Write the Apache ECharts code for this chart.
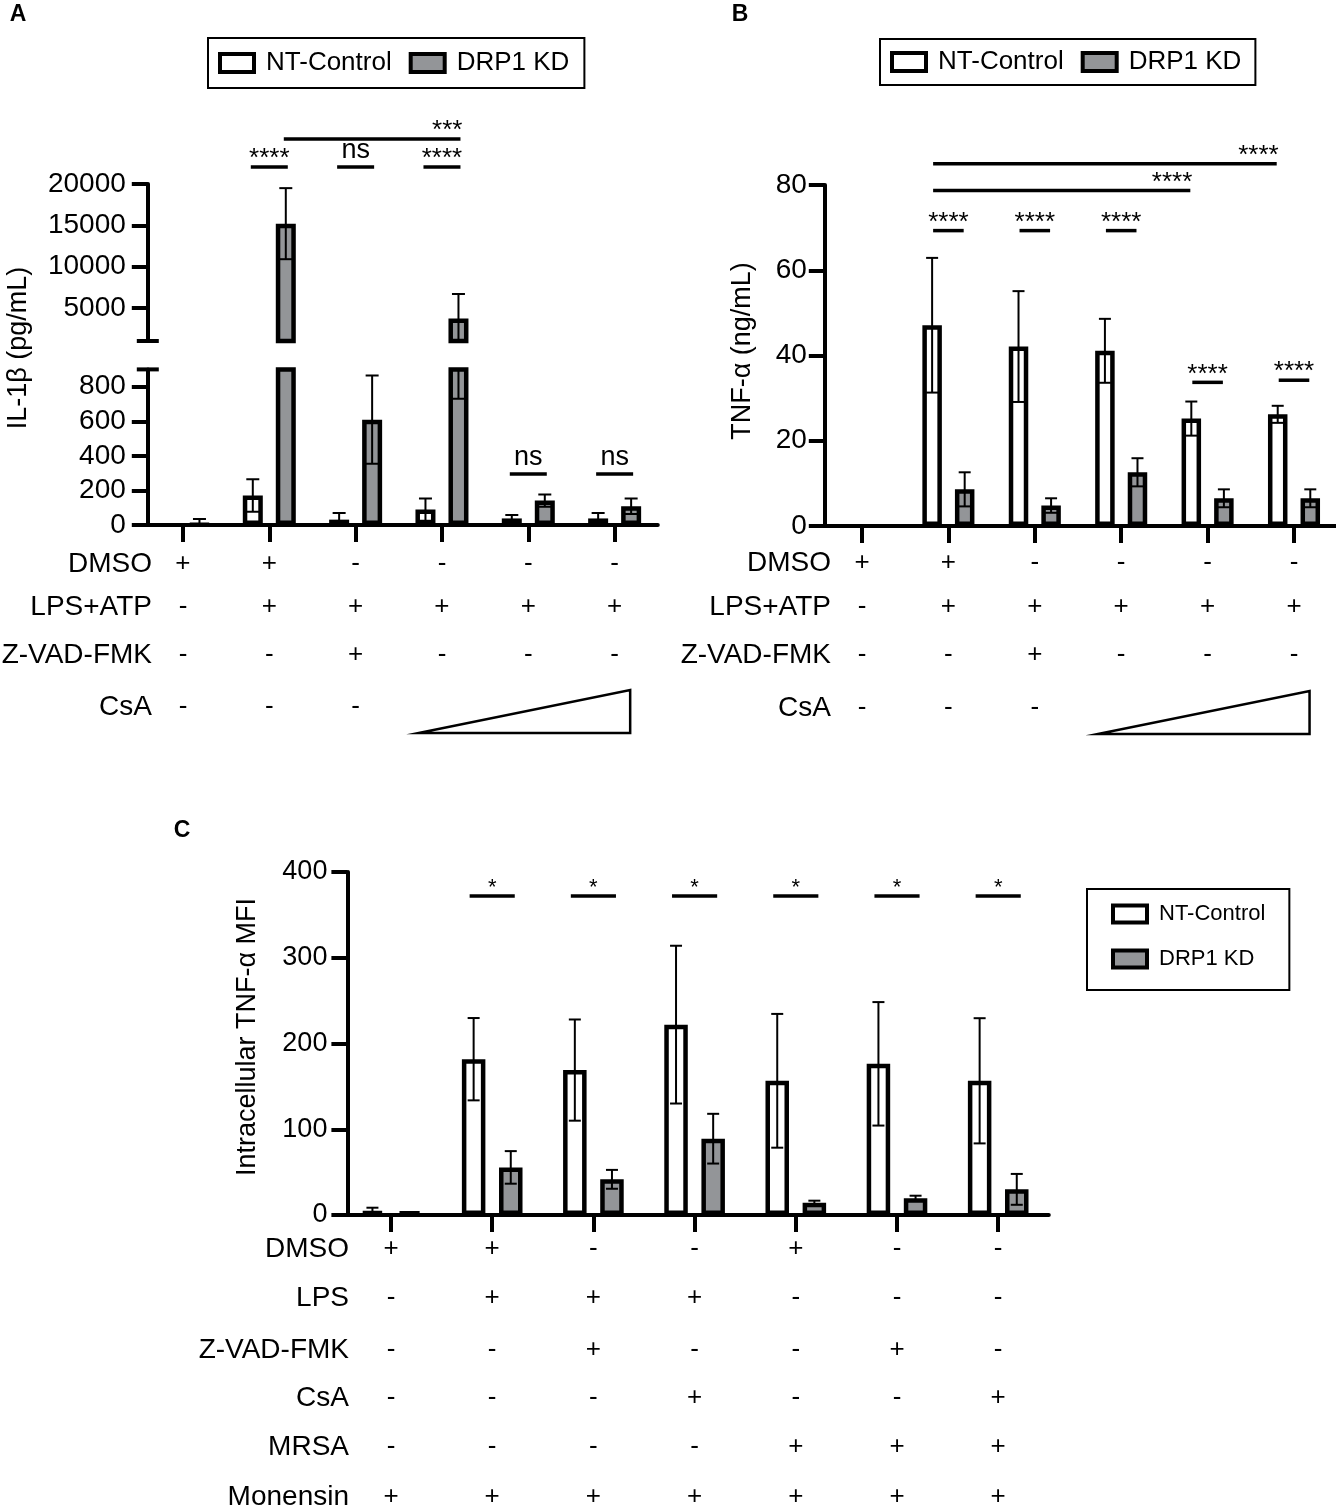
<!doctype html>
<html lang="en">
<head>
    <meta charset="UTF-8">
    <title>IL-1β / TNF-α – NT-Control vs DRP1 KD</title>
    <script src="https://cdn.jsdelivr.net/npm/echarts@6.0.0/dist/echarts.min.js"></script>
    <style>
        html, body { margin: 0; padding: 0; background: #fff; }
        #chart { width: 1336px; height: 1508px; }
    </style>
</head>
<body>
<div id="chart"></div>

<script type="text/javascript">
/* 1. data */
/* panel A : IL-1b (pg/mL), broken axis */
let groupsA = ['1', '2', '3', '4', '5', '6'];
let ntA     = [0, 170, 31, 89, 38, 38];
let ntErrA  = [0, 94, 38, 65, 20, 31];
let kdA     = [3, 15200, 609, 3710, 141, 108];
let kdErrA  = [32, 4300, 255, 2980, 36, 45];

/* panel B : TNF-a (ng/mL) */
let groupsB = ['1', '2', '3', '4', '5', '6'];
let ntB     = [0, 47.1, 42.1, 41.1, 25.2, 26.2];
let ntErrB  = [0, 15.8, 13.0, 7.5, 4.0, 2.0];
let kdB     = [0, 8.6, 4.8, 12.6, 6.5, 6.5];
let kdErrB  = [0, 4.0, 1.7, 3.3, 2.1, 2.1];

/* panel C : intracellular TNF-a MFI */
let groupsC = ['1', '2', '3', '4', '5', '6', '7'];
let ntC     = [4.7, 181.7, 169, 222, 156.5, 176.3, 156.5];
let ntErrC  = [3.8, 48, 59, 92, 78, 72, 73];
let kdC     = [3.9, 55.5, 41.6, 89, 14.4, 19.4, 29.9];
let kdErrC  = [0, 19, 11, 29, 2.3, 3.1, 18];

/* tick labels */
let ticksAUpper = [5000, 10000, 15000, 20000];
let ticksALower = [0, 200, 400, 600, 800];
let ticksB = [0, 20, 40, 60, 80];
let ticksC = [0, 100, 200, 300, 400];

/* treatment rows under the x axis */
let rowNamesA = ['DMSO', 'LPS+ATP', 'Z-VAD-FMK', 'CsA'];
let rowsA = [
    ['+', '+', '-', '-', '-', '-'],
    ['-', '+', '+', '+', '+', '+'],
    ['-', '-', '+', '-', '-', '-'],
    ['-', '-', '-', '', '', '']
];
let rowNamesB = ['DMSO', 'LPS+ATP', 'Z-VAD-FMK', 'CsA'];
let rowsB = [
    ['+', '+', '-', '-', '-', '-'],
    ['-', '+', '+', '+', '+', '+'],
    ['-', '-', '+', '-', '-', '-'],
    ['-', '-', '-', '', '', '']
];
let rowNamesC = ['DMSO', 'LPS', 'Z-VAD-FMK', 'CsA', 'MRSA', 'Monensin'];
let rowsC = [
    ['+', '+', '-', '-', '+', '-', '-'],
    ['-', '+', '+', '+', '-', '-', '-'],
    ['-', '-', '+', '-', '-', '+', '-'],
    ['-', '-', '-', '+', '-', '-', '+'],
    ['-', '-', '-', '-', '+', '+', '+'],
    ['+', '+', '+', '+', '+', '+', '+']
];

/* significance: [fromGroup, fromSide, toGroup, toSide, y value, label]  side -1 = NT, 1 = KD */
let sigAUpper = [
    [1, -1, 1, 1, 22056, '****'],
    [2, -1, 2, 1, 22056, 'ns'],
    [3, -1, 3, 1, 22056, '****'],
    [1, 1, 3, 1, 25443, '***']
];
let sigALower = [
    [4, -1, 4, 1, 295, 'ns'],
    [5, -1, 5, 1, 295, 'ns']
];
let sigB = [
    [1, -1, 1, 1, 69.3, '****'],
    [2, -1, 2, 1, 69.3, '****'],
    [3, -1, 3, 1, 69.3, '****'],
    [4, -1, 4, 1, 33.7, '****'],
    [5, -1, 5, 1, 34.2, '****'],
    [1, -1, 4, -1, 78.7, '****'],
    [1, -1, 5, -1, 85.0, '****']
];
let sigC = [
    [1, -1, 1, 1, 372, '*'],
    [2, -1, 2, 1, 372, '*'],
    [3, -1, 3, 1, 372, '*'],
    [4, -1, 4, 1, 372, '*'],
    [5, -1, 5, 1, 372, '*'],
    [6, -1, 6, 1, 372, '*']
];

/* 2. style constants */
const FONT = "'Liberation Sans', Arial, Helvetica, sans-serif";
const GRAY = '#939598';
const NT_NAME = 'NT-Control';
const KD_NAME = 'DRP1 KD';

/* bar layout per panel: width (border drawn inside), gap ratio, cap width, row offsets below axis */
let pA = { barW: 20, gap: 0.65, cap: 13, rows: [39, 82, 130, 182] };
let pB = { barW: 19.5, gap: 0.67, cap: 12, rows: [37, 81, 129, 182] };
let pC = { barW: 23.5, gap: 0.58, cap: 12, rows: [34, 83, 135, 183, 232, 282] };
[pA, pB, pC].forEach(function (p) { p.off = p.barW * (1 + p.gap) / 2; });

/* 3. helpers */
function barSeries(name, xi, yi, values, fill, p) {
    return {
        type: 'bar', name: name, xAxisIndex: xi, yAxisIndex: yi,
        // a zero mean draws no bar at all (no border stub on the axis)
        data: values.map(function (v) { return v === 0 ? '-' : v; }),
        barWidth: p.barW, barGap: Math.round(p.gap * 100) + '%',
        itemStyle: { color: fill, borderColor: '#000', borderWidth: 4.5 },
        emphasis: { disabled: true }, clip: true, z: 2
    };
}

function errorSeries(name, xi, yi, means, errs, side, p) {
    return {
        type: 'custom', name: name, xAxisIndex: xi, yAxisIndex: yi, clip: true, z: 5,
        silent: true,
        encode: { x: 0, y: 1 },
        data: means.map(function (m, i) { return [i, m, errs[i]]; }),
        renderItem: function (params, api) {
            let e = api.value(2);
            if (!e) return;
            let m = api.value(1);
            let top = api.coord([api.value(0), m + e]);
            let bot = api.coord([api.value(0), m - e]);
            let x = top[0] + side * p.off;
            let st = { stroke: '#000', lineWidth: 2 };
            return {
                type: 'group', children: [
                    { type: 'line', shape: { x1: x, y1: top[1], x2: x, y2: bot[1] }, style: st },
                    { type: 'line', shape: { x1: x - p.cap / 2, y1: top[1], x2: x + p.cap / 2, y2: top[1] }, style: st },
                    { type: 'line', shape: { x1: x - p.cap / 2, y1: bot[1], x2: x + p.cap / 2, y2: bot[1] }, style: st }
                ]
            };
        }
    };
}

function mainXAxis(gridIndex, groups, show) {
    return {
        gridIndex: gridIndex, type: 'category', data: groups, show: show,
        axisLine: { show: true, lineStyle: { color: '#000', width: 4 } },
        axisTick: { show: true, alignWithLabel: true, interval: 0, length: 17, lineStyle: { color: '#000', width: 4 } },
        axisLabel: { show: false }, splitLine: { show: false }
    };
}

function rowXAxis(gridIndex, groups, signs, offset) {
    return {
        gridIndex: gridIndex, type: 'category', data: groups, position: 'bottom', offset: offset,
        axisLine: { show: false }, axisTick: { show: false }, splitLine: { show: false },
        axisLabel: {
            show: true, interval: 0, margin: 0, verticalAlign: 'middle',
            fontSize: 26, fontFamily: FONT, color: '#000',
            formatter: function (v, i) { return signs[i]; }
        }
    };
}

function valueYAxis(gridIndex, min, max, ticks, offset, margin, fontSize) {
    return {
        gridIndex: gridIndex, type: 'value', min: min, max: max, offset: offset,
        axisLine: { show: true, lineStyle: { color: '#000', width: 4 } },
        axisTick: { show: true, length: 16, lineStyle: { color: '#000', width: 4 }, customValues: ticks },
        axisLabel: {
            show: true, customValues: ticks, margin: margin, fontSize: fontSize, fontFamily: FONT, color: '#000',
            formatter: function (v) { return String(v); }
        },
        splitLine: { show: false }
    };
}

function legendBox(left, top, orient, fontSize, pad, gap) {
    return {
        data: [NT_NAME, KD_NAME], left: left, top: top, orient: orient,
        icon: 'rect', itemWidth: 34, itemHeight: orient === 'vertical' ? 17 : 18,
        itemGap: gap, padding: pad, borderColor: '#000', borderWidth: 2,
        selectedMode: false, backgroundColor: '#fff',
        itemStyle: { borderColor: '#000', borderWidth: 4 },
        textStyle: { fontSize: fontSize, fontFamily: FONT, color: '#000', padding: [0, 0, 0, 7] }
    };
}

/* 4. axes */
let xAxes = [];
let gridA1 = 0, gridA2 = 1, gridB = 2, gridC = 3;

xAxes.push(mainXAxis(gridA1, groupsA, false));             // 0
xAxes.push(mainXAxis(gridA2, groupsA, true));              // 1
rowsA.forEach(function (r, i) { xAxes.push(rowXAxis(gridA2, groupsA, r, pA.rows[i])); });
let xB = xAxes.length;
xAxes.push(mainXAxis(gridB, groupsB, true));
rowsB.forEach(function (r, i) { xAxes.push(rowXAxis(gridB, groupsB, r, pB.rows[i])); });
let xC = xAxes.length;
xAxes.push(mainXAxis(gridC, groupsC, true));
rowsC.forEach(function (r, i) { xAxes.push(rowXAxis(gridC, groupsC, r, pC.rows[i])); });

let yAxes = [
    valueYAxis(gridA1, 1000, 20000, ticksAUpper, -8, 22, 28),
    valueYAxis(gridA2, 0, 900, ticksALower, -8, 22, 28),
    valueYAxis(gridB, 0, 80, ticksB, -6, 18, 28),
    valueYAxis(gridC, 0, 400, ticksC, -7, 20, 27)
];

/* 5. option */
let chart = echarts.init(document.getElementById('chart'), null, { renderer: 'canvas' });

let option = {
    animation: false,
    backgroundColor: '#fff',
    textStyle: { fontFamily: FONT },
    grid: [
        { left: 139.8, top: 184, width: 518, height: 157, containLabel: false, outerBoundsMode: 'none' },
        { left: 139.8, top: 369.4, width: 518, height: 155.6, containLabel: false, outerBoundsMode: 'none' },
        { left: 818.8, top: 185, width: 518.4, height: 341, containLabel: false, outerBoundsMode: 'none' },
        { left: 340.4, top: 872, width: 708.4, height: 343, containLabel: false, outerBoundsMode: 'none' }
    ],
    legend: [
        legendBox(208, 38, 'horizontal', 26, [12, 15, 12, 10], 17),
        legendBox(880, 39, 'horizontal', 26, [10, 14, 10, 10], 17),
        legendBox(1087, 889, 'vertical', 22, [14, 24, 20, 24], 23)
    ],
    xAxis: xAxes,
    yAxis: yAxes,
    series: [
        barSeries(NT_NAME, 0, 0, ntA, '#fff', pA),
        barSeries(KD_NAME, 0, 0, kdA, GRAY, pA),
        errorSeries('errA1nt', 0, 0, ntA, ntErrA, -1, pA),
        errorSeries('errA1kd', 0, 0, kdA, kdErrA, 1, pA),

        barSeries(NT_NAME, 1, 1, ntA, '#fff', pA),
        barSeries(KD_NAME, 1, 1, kdA, GRAY, pA),
        errorSeries('errA2nt', 1, 1, ntA, ntErrA, -1, pA),
        errorSeries('errA2kd', 1, 1, kdA, kdErrA, 1, pA),

        barSeries(NT_NAME, xB, 2, ntB, '#fff', pB),
        barSeries(KD_NAME, xB, 2, kdB, GRAY, pB),
        errorSeries('errBnt', xB, 2, ntB, ntErrB, -1, pB),
        errorSeries('errBkd', xB, 2, kdB, kdErrB, 1, pB),

        barSeries(NT_NAME, xC, 3, ntC, '#fff', pC),
        barSeries(KD_NAME, xC, 3, kdC, GRAY, pC),
        errorSeries('errCnt', xC, 3, ntC, ntErrC, -1, pC),
        errorSeries('errCkd', xC, 3, kdC, kdErrC, 1, pC)
    ]
};
chart.setOption(option);

/* 6. annotations (placed through the axes) */
function px(xi, yi, cat, val) {
    return chart.convertToPixel({ xAxisIndex: xi, yAxisIndex: yi }, [cat, val]);
}

function txt(x, y, s, size, align, opts) {
    opts = opts || {};
    return {
        type: 'text', x: x, y: y, rotation: opts.rotation || 0, z: 20,
        style: {
            text: s, x: 0, y: 0, fill: '#000',
            fontSize: size, fontFamily: FONT, fontWeight: opts.bold ? 'bold' : 'normal',
            textAlign: align, textVerticalAlign: 'middle'
        }
    };
}

function seg(x1, y1, x2, y2, w) {
    return { type: 'line', z: 20, shape: { x1: x1, y1: y1, x2: x2, y2: y2 }, style: { stroke: '#000', lineWidth: w } };
}

let graphics = [];

function addSig(list, xi, yi, p, ext, starSize) {
    list.forEach(function (s) {
        let a = px(xi, yi, s[0], s[4]);
        let b = px(xi, yi, s[2], s[4]);
        let x1 = a[0] + s[1] * p.off - ext;
        let x2 = b[0] + s[3] * p.off + ext;
        let y = a[1];
        graphics.push(seg(x1, y, x2, y, 3.5));
        let isStar = s[5].indexOf('*') >= 0;
        let size = isStar ? starSize : 27;
        let dy = isStar ? -8 : -16;
        if (s[0] !== s[2]) {
            graphics.push(txt(x2 + 2, y + dy, s[5], size, 'right'));
        } else {
            graphics.push(txt((x1 + x2) / 2, y + dy, s[5], size, 'center'));
        }
    });
}

addSig(sigAUpper, 0, 0, pA, 2, 26);
addSig(sigALower, 1, 1, pA, 2, 26);
addSig(sigB, xB, 2, pB, -1, 26);
addSig(sigC, xC, 3, pC, 4, 22);

/* broken-axis marks on panel A */
let brTop = px(0, 0, 0, 1000);
let brBot = px(1, 1, 0, 900);
let axA = 139.8 + 8;
graphics.push(seg(axA - 11, brTop[1], axA + 11, brTop[1], 4));
graphics.push(seg(axA - 11, brBot[1], axA + 11, brBot[1], 4));

/* row titles */
function addRows(names, rowOff, baseY, rightX) {
    names.forEach(function (n, i) {
        graphics.push(txt(rightX, baseY + rowOff[i], n, 28, 'right'));
    });
}
let baseA = px(1, 1, 0, 0)[1];
let baseB = px(xB, 2, 0, 0)[1];
let baseC = px(xC, 3, 0, 0)[1];
addRows(rowNamesA, pA.rows, baseA, 152);
addRows(rowNamesB, pB.rows, baseB, 831);
addRows(rowNamesC, pC.rows, baseC, 349);

/* dose triangles for CsA */
function addWedge(xi, yi, fromCat, toCat, rowY) {
    let c0 = px(xi, yi, fromCat, 0)[0];
    let c1 = px(xi, yi, toCat, 0)[0];
    let band = px(xi, yi, 1, 0)[0] - px(xi, yi, 0, 0)[0];
    let l = c0 - 0.27 * band, r = c1 + 0.18 * band;
    graphics.push({
        type: 'polygon', z: 20,
        shape: { points: [[l, rowY + 26], [r, rowY + 26], [r, rowY - 17]] },
        style: { fill: 'none', stroke: '#000', lineWidth: 2.5 }
    });
}
addWedge(1, 1, 3, 5, baseA + pA.rows[3]);
addWedge(xB, 2, 3, 5, baseB + pB.rows[3]);

/* axis titles and panel letters */
graphics.push(txt(19, 348, 'IL-1β (pg/mL)', 27, 'center', { rotation: Math.PI / 2 }));
graphics.push(txt(743, 351, 'TNF-α (ng/mL)', 27, 'center', { rotation: Math.PI / 2 }));
graphics.push(txt(248, 1037, 'Intracellular TNF-α MFI', 27, 'center', { rotation: Math.PI / 2 }));
graphics.push(txt(18, 15, 'A', 23, 'center', { bold: true }));
graphics.push(txt(740, 15, 'B', 23, 'center', { bold: true }));
graphics.push(txt(182, 831, 'C', 23, 'center', { bold: true }));

chart.setOption({ graphic: graphics });
</script>
</body>
</html>
